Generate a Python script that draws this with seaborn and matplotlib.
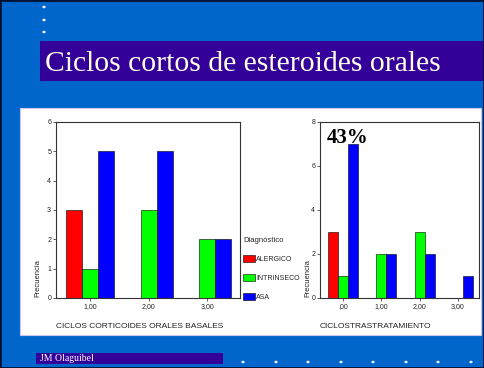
import matplotlib
matplotlib.use("Agg")
import matplotlib.pyplot as plt
from matplotlib.patches import Rectangle
import seaborn as sns
import pandas as pd

# ---- data ----
diagnosticos = ["ALERGICO", "INTRINSECO", "ASA"]
colores = ["#FF0000", "#00FF00", "#0000FF"]

basal_cats = ["1,00", "2,00", "3,00"]
basal_alergico = [3, 0, 0]
basal_intrinseco = [1, 3, 2]
basal_asa = [5, 5, 2]

tras_cats = [",00", "1,00", "2,00", "3,00"]
tras_alergico = [3, 0, 0, 0]
tras_intrinseco = [1, 2, 3, 0]
tras_asa = [7, 2, 2, 1]

left_yticks = [0, 1, 2, 3, 4, 5, 6]
right_yticks = [0, 2, 4, 6, 8]


def build(cats, series):
    rows = []
    for name, vals in zip(diagnosticos, series):
        for c, v in zip(cats, vals):
            if v > 0:
                rows.append({"cat": c, "Diagnóstico": name, "Frecuencia": v})
    return pd.DataFrame(rows)


df_basal = build(basal_cats, [basal_alergico, basal_intrinseco, basal_asa])
df_tras = build(tras_cats, [tras_alergico, tras_intrinseco, tras_asa])

W, H = 484, 368
sns.set_theme(style="white")
plt.rcParams["font.family"] = ["Liberation Sans", "DejaVu Sans"]

fig = plt.figure(figsize=(W / 100, H / 100), dpi=100)
fig.patch.set_facecolor("#0066CC")


def fx(px):
    return px / W


def fy(py):
    return 1 - py / H


# white panel
fig.patches.append(Rectangle((fx(20), fy(335)), fx(481) - fx(20), fy(108) - fy(335),
                             transform=fig.transFigure, facecolor="white",
                             edgecolor="#C8C8F0", linewidth=0.8, zorder=-5))
# title band
fig.patches.append(Rectangle((fx(40), fy(81)), 1 - fx(40), fy(41) - fy(81),
                             transform=fig.transFigure, facecolor="#330099",
                             edgecolor="none", zorder=-5))
fig.text(fx(45), fy(64), "Ciclos cortos de esteroides orales", color="#FFFFE6",
         fontsize=21.3, family="Liberation Serif", va="center", ha="left")
# footer band
fig.patches.append(Rectangle((fx(36), fy(364)), fx(223) - fx(36), fy(353) - fy(364),
                             transform=fig.transFigure, facecolor="#330099",
                             edgecolor="none", zorder=-5))
fig.text(fx(40), fy(358.5), "JM Olaguibel", color="white", fontsize=7,
         family="Liberation Serif", va="center", ha="left")
# decorative dots
for py in [7, 20, 32]:
    fig.patches.append(plt.Circle((fx(44), fy(py)), 0.0035, transform=fig.transFigure,
                                  facecolor="#EEEEFF", edgecolor="none", zorder=-4))
for px in [243, 276, 308, 341, 373, 406, 438, 471]:
    fig.patches.append(plt.Circle((fx(px), fy(362)), 0.0035, transform=fig.transFigure,
                                  facecolor="#EEEEFF", edgecolor="none", zorder=-4))
# border
fig.patches.append(Rectangle((0, 0), 1, 1, transform=fig.transFigure, facecolor="none",
                             edgecolor="#001133", linewidth=2, zorder=10))

ax1 = fig.add_axes([fx(56), fy(298), fx(240) - fx(56), fy(122) - fy(298)])
ax2 = fig.add_axes([fx(320), fy(298), fx(479) - fx(320), fy(122) - fy(298)])
ax1.set_zorder(1)
ax2.set_zorder(1)

sns.barplot(data=df_basal, x="cat", y="Frecuencia", hue="Diagnóstico", order=basal_cats,
            hue_order=diagnosticos, palette=colores, width=0.82, ax=ax1,
            edgecolor="black", linewidth=0.4, saturation=1)
sns.barplot(data=df_tras, x="cat", y="Frecuencia", hue="Diagnóstico", order=tras_cats,
            hue_order=diagnosticos, palette=colores, width=0.79, ax=ax2,
            edgecolor="black", linewidth=0.4, saturation=1, legend=False)

ax1.set_xlim(-0.58, 2.56)
ax1.set_ylim(0, 6)
ax1.set_yticks(left_yticks)
ax2.set_xlim(-0.6, 3.55)
ax2.set_ylim(0, 8)
ax2.set_yticks(right_yticks)

for ax, xl, xc in [(ax1, "CICLOS CORTICOIDES ORALES BASALES", (140 - 56) / 184),
                   (ax2, "CICLOSTRASTRATAMIENTO", (375 - 320) / 159)]:
    ax.set_facecolor("white")
    for s in ax.spines.values():
        s.set_color("#333333")
        s.set_linewidth(0.8)
        s.set_visible(True)
    ax.tick_params(axis="both", labelsize=5, colors="#222222", length=2, width=0.5,
                   direction="out", pad=1.5, left=True, bottom=True)
    ax.set_xlabel(xl, fontsize=6, color="#222222")
    ax.xaxis.set_label_coords(xc, -(326 - 298) / 176)
    ax.xaxis.label.set_va("center")
    ax.set_ylabel("Frecuencia", fontsize=5.5, color="#222222", loc="bottom")
    ax.yaxis.label.set_va("center")

ax1.yaxis.set_label_coords((38 - 56) / 184, 0.005)
ax2.yaxis.set_label_coords((308 - 320) / 159, 0.005)

ax2.text((348 - 320) / 159, (298 - 138) / 176, "43%", transform=ax2.transAxes,
         fontsize=15, fontweight="bold", family="Liberation Serif", ha="center",
         va="center", color="black")

sns.move_legend(ax1, "upper left", bbox_to_anchor=(fx(243), fy(237)),
                bbox_transform=fig.transFigure, frameon=False, title="Diagnóstico",
                fontsize=5, title_fontsize=5.5, handlelength=1.7, handleheight=1.3,
                labelspacing=1.55, borderpad=0, borderaxespad=0, handletextpad=0.2,
                alignment="left")

fig.savefig("out.png", dpi=100, facecolor=fig.get_facecolor())
